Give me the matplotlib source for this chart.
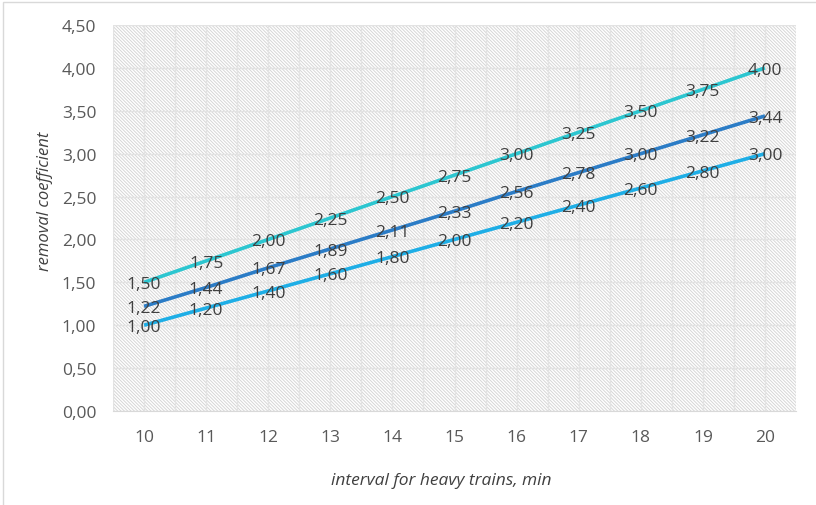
import numpy as np
import matplotlib.pyplot as plt
from matplotlib.patches import Rectangle
from matplotlib.ticker import FuncFormatter

# interval for heavy trains, min
intervals = [10, 11, 12, 13, 14, 15, 16, 17, 18, 19, 20]

# removal coefficient, three series
top_vals = [1.50, 1.75, 2.00, 2.25, 2.50, 2.75, 3.00, 3.25, 3.50, 3.75, 4.00]
mid_vals = [1.22, 1.44, 1.67, 1.89, 2.11, 2.33, 2.56, 2.78, 3.00, 3.22, 3.44]
low_vals = [1.00, 1.20, 1.40, 1.60, 1.80, 2.00, 2.20, 2.40, 2.60, 2.80, 3.00]

plt.rcParams['font.family'] = ['Open Sans', 'DejaVu Sans']
plt.rcParams['hatch.linewidth'] = 0.7
plt.rcParams['hatch.color'] = '#d6d6d6'

fig = plt.figure(figsize=(8.16, 5.06), dpi=100)
fig.patches.append(Rectangle((0.004, -0.01), 1.2, 1.004, transform=fig.transFigure,
                             fill=False, edgecolor='#d9d9d9', linewidth=1))
ax = fig.add_axes([0.1385, 0.1858, 0.837, 0.7628])

# hatched plot area
ax.add_patch(Rectangle((0, 0), 1, 1, transform=ax.transAxes, facecolor='white',
                       hatch='\\' * 10, edgecolor='#d6d6d6', linewidth=0, zorder=0))

ax.set_xlim(9.5, 20.5)
ax.set_ylim(0, 4.5)
ax.set_xticks(intervals)
ax.set_xticks(np.arange(9.5, 20.6, 1.0), minor=True)
ax.set_yticks(np.arange(0, 4.51, 0.5))
ax.yaxis.set_major_formatter(FuncFormatter(lambda v, p: f"{v:.2f}".replace('.', ',')))
ax.grid(True, which='both', axis='x', color='#e3e3e3', linewidth=1, zorder=1)
ax.grid(True, which='major', axis='y', color='#e3e3e3', linewidth=1, zorder=1)
ax.tick_params(which='both', length=0, labelsize=12.5, labelcolor='#595959')
ax.tick_params(axis='x', pad=13)
ax.tick_params(axis='y', pad=12)
for s in ['top', 'right', 'left']:
    ax.spines[s].set_visible(False)
ax.spines['bottom'].set_color('#d9d9d9')
ax.set_axisbelow(True)

series = [(top_vals, '#2cc6d0'), (mid_vals, '#2b7cc6'), (low_vals, '#1eaee6')]
for vals, col in series:
    ax.plot(intervals, vals, color=col, linewidth=2.6, zorder=3, solid_capstyle='butt')
    for x, y in zip(intervals, vals):
        ax.text(x, y - 0.02, f"{y:.2f}".replace('.', ','), ha='center', va='center',
                fontsize=12.5, color='#404040', zorder=4)

ax.set_xlabel('interval for heavy trains, min', fontsize=12.5, style='italic',
              color='#404040')
ax.set_ylabel('removal coefficient', fontsize=12, style='italic',
              color='#404040')
ax.xaxis.set_label_coords(0.481, -0.157)
ax.yaxis.set_label_coords(-0.088, 0.547)

fig.savefig('out.png', dpi=100)
